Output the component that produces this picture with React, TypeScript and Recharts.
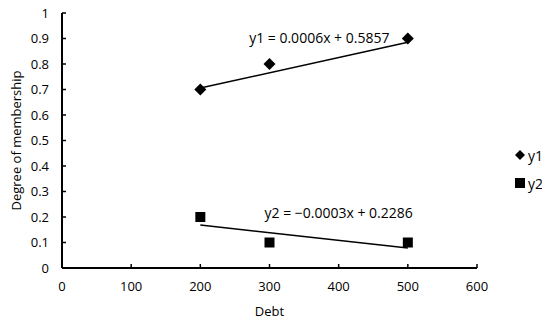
import {
  ScatterChart,
  Scatter,
  XAxis,
  YAxis,
  ReferenceDot,
} from 'recharts';

const y1Points = [
  { x: 200, y: 0.7 },
  { x: 300, y: 0.8 },
  { x: 500, y: 0.9 },
];
const y2Points = [
  { x: 200, y: 0.2 },
  { x: 300, y: 0.1 },
  { x: 500, y: 0.1 },
];
// trendline endpoints (from the fitted equations shown on the chart)
const y1Trend = [
  { x: 200, y: 0.7057 },
  { x: 500, y: 0.8857 },
];
const y2Trend = [
  { x: 200, y: 0.1686 },
  { x: 500, y: 0.0786 },
];
const xTicks = [0, 100, 200, 300, 400, 500, 600];
const yTicks = [0, 0.1, 0.2, 0.3, 0.4, 0.5, 0.6, 0.7, 0.8, 0.9, 1];

const FONT = '"Open Sans", sans-serif';

// eslint-disable-next-line @typescript-eslint/no-explicit-any
function Diamond(props: any) {
  const { cx, cy } = props as { cx: number; cy: number };
  const r = 6;
  return (
    <polygon
      points={`${cx},${cy - r} ${cx + r},${cy} ${cx},${cy + r} ${cx - r},${cy}`}
      fill="#000"
    />
  );
}

// eslint-disable-next-line @typescript-eslint/no-explicit-any
function Square(props: any) {
  const { cx, cy } = props as { cx: number; cy: number };
  return <rect x={cx - 5} y={cy - 5} width={10} height={10} fill="#000" />;
}

const NoShape = () => null;

function LegendBox() {
  const row = { display: 'flex', alignItems: 'center', height: 28 } as const;
  return (
    <div
      style={{
        position: 'absolute',
        left: 514,
        top: 141,
        fontFamily: FONT,
        fontSize: 14,
        color: '#000',
      }}
    >
      <div style={row}>
        <svg width={12} height={12}>
          <polygon points="6,1 11,6 6,11 1,6" fill="#000" />
        </svg>
        <span style={{ marginLeft: 2 }}>y1</span>
      </div>
      <div style={row}>
        <svg width={12} height={12}>
          <rect x={1} y={1} width={10} height={10} fill="#000" />
        </svg>
        <span style={{ marginLeft: 2 }}>y2</span>
      </div>
    </div>
  );
}

const labelStyle = { fontSize: 13, fill: '#000', fontFamily: FONT };
const eqStyle = { fontSize: 14, fill: '#000', fontFamily: FONT };

export default function App() {
  return (
    <div
      style={{
        margin: -8,
        width: 550,
        height: 325,
        background: '#fff',
        position: 'relative',
      }}
    >
      <ScatterChart
        width={550}
        height={325}
        margin={{ top: 13, right: 73, left: 12, bottom: 27 }}
      >
        <XAxis
          type="number"
          dataKey="x"
          domain={[0, 600]}
          ticks={xTicks}
          tickSize={-4}
          tickMargin={18}
          axisLine={{ stroke: '#000', strokeWidth: 2 }}
          tickLine={{ stroke: '#000', strokeWidth: 1.5 }}
          tick={{ fontSize: 13, fill: '#000', fontFamily: FONT }}
          label={{
            value: 'Debt',
            position: 'insideBottom',
            offset: -18,
            style: labelStyle,
          }}
        />
        <YAxis
          type="number"
          dataKey="y"
          domain={[0, 1]}
          ticks={yTicks}
          width={50}
          tickSize={-4}
          tickMargin={17}
          axisLine={{ stroke: '#000', strokeWidth: 2 }}
          tickLine={{ stroke: '#000', strokeWidth: 1.5 }}
          tick={{ fontSize: 13, fill: '#000', fontFamily: FONT }}
          label={{
            value: 'Degree of membership',
            angle: -90,
            position: 'insideLeft',
            offset: 4,
            style: { ...labelStyle, textAnchor: 'middle' },
          }}
        />
        <Scatter
          name="y1 trend"
          data={y1Trend}
          line={{ stroke: '#000', strokeWidth: 1.5 }}
          shape={NoShape}
          legendType="none"
          isAnimationActive={false}
        />
        <Scatter
          name="y2 trend"
          data={y2Trend}
          line={{ stroke: '#000', strokeWidth: 1.5 }}
          shape={NoShape}
          legendType="none"
          isAnimationActive={false}
        />
        <Scatter name="y1" data={y1Points} shape={Diamond} isAnimationActive={false} />
        <Scatter name="y2" data={y2Points} shape={Square} isAnimationActive={false} />
        <ReferenceDot
          x={372}
          y={0.9}
          r={0}
          stroke="none"
          label={{
            value: 'y1 = 0.0006x + 0.5857',
            position: 'center',
            style: eqStyle,
          }}
        />
        <ReferenceDot
          x={400}
          y={0.216}
          r={0}
          stroke="none"
          label={{
            value: 'y2 = −0.0003x + 0.2286',
            position: 'center',
            style: eqStyle,
          }}
        />
      </ScatterChart>
      <LegendBox />
    </div>
  );
}
